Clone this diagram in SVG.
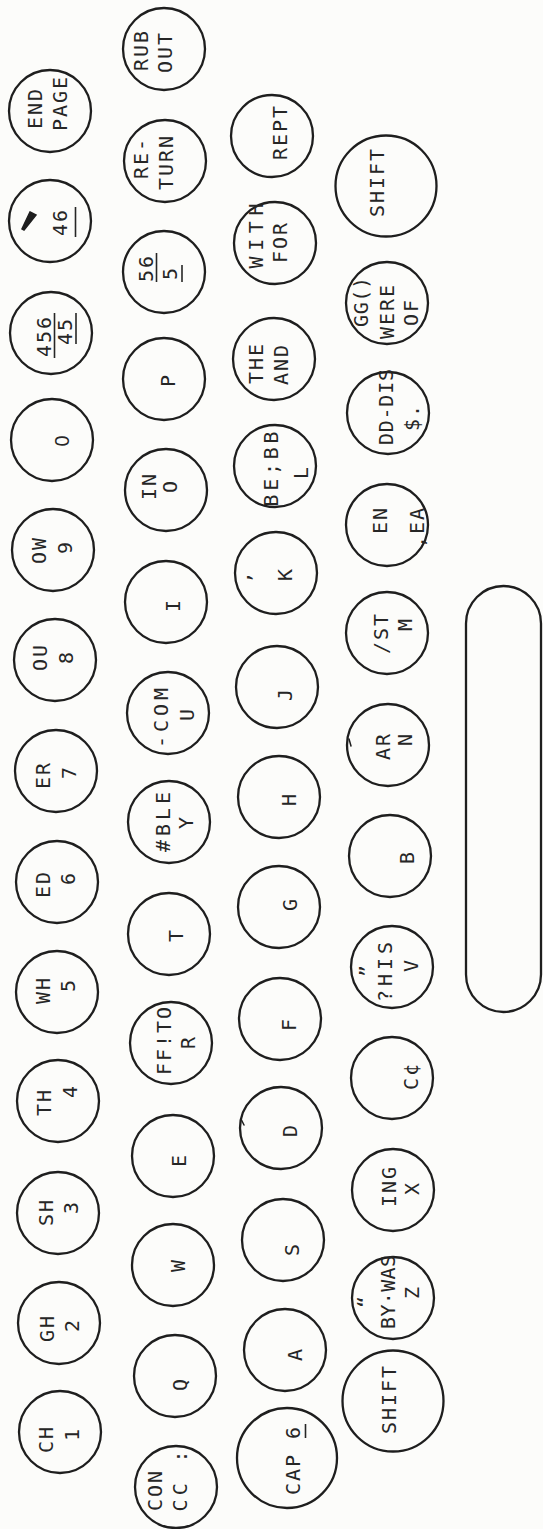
<svg xmlns="http://www.w3.org/2000/svg" width="543" height="1529" viewBox="0 0 543 1529">
<style>
.k{fill:none;stroke:#1e1e1e;stroke-width:2.3}
.t{font-family:"DejaVu Sans Mono","Liberation Mono",monospace;font-size:20px;fill:#262626;text-anchor:middle;letter-spacing:2px}
.z{font-family:"Liberation Sans","DejaVu Sans",sans-serif;letter-spacing:0}
.f{letter-spacing:0}
.u{stroke:#262626;stroke-width:1.6;fill:none}
.m{fill:#1e1e1e;stroke:#1e1e1e;stroke-width:1.5;stroke-linecap:round}
</style>
<rect width="543" height="1529" fill="#fcfcfa"/>

<!-- Row 1 (number row) -->
<g id="key-ch-1"><circle class="k" cx="60" cy="1432" r="41"/><text class="t" transform="translate(53.3 1439) rotate(-90)">CH</text><text class="t" transform="translate(79.3 1434) rotate(-90)">1</text></g>
<g id="key-gh-2"><circle class="k" cx="59" cy="1323" r="41"/><text class="t" transform="translate(54.3 1328) rotate(-90)">GH</text><text class="t" transform="translate(79.3 1325) rotate(-90)">2</text></g>
<g id="key-sh-3"><circle class="k" cx="58" cy="1213" r="41"/><text class="t" transform="translate(53.3 1212) rotate(-90)">SH</text><text class="t" transform="translate(78.3 1207) rotate(-90)">3</text></g>
<g id="key-th-4"><circle class="k" cx="58" cy="1101" r="41"/><text class="t" transform="translate(51.3 1102) rotate(-90)">TH</text><text class="t" transform="translate(77.3 1091) rotate(-90)">4</text></g>
<g id="key-wh-5"><circle class="k" cx="57" cy="992" r="41"/><text class="t" transform="translate(50.3 990) rotate(-90)">WH</text><text class="t" transform="translate(75.3 985) rotate(-90)">5</text></g>
<g id="key-ed-6"><circle class="k" cx="57" cy="882" r="41"/><text class="t" transform="translate(50.3 884) rotate(-90)">ED</text><text class="t" transform="translate(75.3 878) rotate(-90)">6</text></g>
<g id="key-er-7"><circle class="k" cx="56" cy="771" r="41"/><text class="t" transform="translate(50.3 775) rotate(-90)">ER</text><text class="t" transform="translate(76.3 772) rotate(-90)">7</text></g>
<g id="key-ou-8"><circle class="k" cx="55" cy="660" r="41"/><text class="t" transform="translate(47.3 657) rotate(-90)">OU</text><text class="t" transform="translate(73.3 657) rotate(-90)">8</text></g>
<g id="key-ow-9"><circle class="k" cx="53" cy="550" r="41"/><text class="t" transform="translate(46.3 550) rotate(-90)">OW</text><text class="t" transform="translate(72.3 547) rotate(-90)">9</text></g>
<g id="key-0"><circle class="k" cx="52" cy="440" r="41"/><text class="t z" transform="translate(69.3 441) rotate(-90)">0</text></g>
<g id="key-456-45"><circle class="k" cx="51" cy="333" r="41"/><text class="t" transform="translate(51.3 336) rotate(-90)">456</text><line class="u" x1="54.5" y1="313" x2="54.5" y2="358"/><text class="t" transform="translate(72.3 331) rotate(-90)">45</text><line class="u" x1="76" y1="313" x2="76" y2="344"/></g>
<g id="key-46"><circle class="k" cx="50" cy="221" r="41"/><path class="m" d="M30 212 L36 215 L24 230 L22 229 Z"/><text class="t" transform="translate(67.3 222) rotate(-90)">46</text><line class="u" x1="75.5" y1="207" x2="75.5" y2="237"/></g>
<g id="key-end-page"><circle class="k" cx="50" cy="111" r="41"/><text class="t" transform="translate(42.3 108) rotate(-90)">END</text><text class="t" transform="translate(67.3 103) rotate(-90)">PAGE</text></g>

<!-- Row 2 -->
<g id="key-rub-out"><circle class="k" cx="164" cy="49" r="41"/><text class="t" transform="translate(148.3 50) rotate(-90)">RUB</text><text class="t" transform="translate(172.3 52) rotate(-90)">OUT</text></g>
<g id="key-return"><circle class="k" cx="165" cy="161" r="41"/><text class="t" transform="translate(148.3 158) rotate(-90)">RE-</text><text class="t" transform="translate(173.3 162) rotate(-90)">TURN</text></g>
<g id="key-56-5"><circle class="k" cx="164" cy="272" r="41"/><text class="t" transform="translate(153.3 268) rotate(-90)">56</text><line class="u" x1="156.5" y1="253" x2="156.5" y2="282"/><text class="t" transform="translate(177.3 273) rotate(-90)">5</text><line class="u" x1="182" y1="265" x2="182" y2="282"/></g>
<g id="key-p"><circle class="k" cx="164" cy="379" r="41"/><text class="t" transform="translate(175.3 380) rotate(-90)">P</text></g>
<g id="key-in-o"><circle class="k" cx="166" cy="490" r="41"/><text class="t" transform="translate(156.3 486) rotate(-90)">IN</text><text class="t" transform="translate(177.3 486) rotate(-90)">O</text></g>
<g id="key-i"><circle class="k" cx="166" cy="602" r="41"/><text class="t" transform="translate(180.3 605) rotate(-90)">I</text></g>
<g id="key-com-u"><circle class="k" cx="168" cy="713" r="41"/><text class="t f" textLength="60" lengthAdjust="spacing" transform="translate(168.3 718) rotate(-90)">-COM</text><text class="t" transform="translate(194.3 714) rotate(-90)">U</text></g>
<g id="key-ble-y"><circle class="k" cx="169" cy="822" r="41"/><text class="t f" textLength="60" lengthAdjust="spacing" transform="translate(170.3 822) rotate(-90)">#BLE</text><text class="t" transform="translate(193.3 822) rotate(-90)">Y</text></g>
<g id="key-t"><circle class="k" cx="169" cy="934" r="41"/><text class="t" transform="translate(183.3 935) rotate(-90)">T</text></g>
<g id="key-ffto-r"><circle class="k" cx="171" cy="1043" r="41"/><text class="t" transform="translate(171.3 1040) rotate(-90)">FF!TO</text><text class="t" transform="translate(195.3 1042) rotate(-90)">R</text></g>
<g id="key-e"><circle class="k" cx="173" cy="1156" r="41"/><text class="t" transform="translate(186.3 1160) rotate(-90)">E</text></g>
<g id="key-w"><circle class="k" cx="173" cy="1265" r="41"/><text class="t" transform="translate(185.3 1265) rotate(-90)">W</text></g>
<g id="key-q"><circle class="k" cx="175" cy="1376" r="41"/><text class="t" transform="translate(187.3 1384) rotate(-90)">Q</text></g>
<g id="key-con-cc"><circle class="k" cx="176" cy="1487" r="41"/><text class="t" transform="translate(162.3 1490) rotate(-90)">CON</text><text class="t f" textLength="61" lengthAdjust="spacing" transform="translate(187.3 1481) rotate(-90)">CC :</text></g>

<!-- Row 3 -->
<g id="key-rept"><circle class="k" cx="272" cy="136" r="41"/><text class="t" transform="translate(287.3 132) rotate(-90)">REPT</text></g>
<g id="key-with-for"><circle class="k" cx="275" cy="243" r="41"/><text class="t f" textLength="65" lengthAdjust="spacing" transform="translate(263.3 236) rotate(-90)">WITH</text><text class="t" transform="translate(287.3 242) rotate(-90)">FOR</text></g>
<g id="key-the-and"><circle class="k" cx="274" cy="359" r="41"/><text class="t" transform="translate(263.3 363) rotate(-90)">THE</text><text class="t" transform="translate(288.3 364) rotate(-90)">AND</text></g>
<g id="key-bebb-l"><circle class="k" cx="275" cy="466" r="41"/><text class="t f" textLength="75" lengthAdjust="spacing" transform="translate(278.3 469) rotate(-90)">BE;BB</text><text class="t" transform="translate(308.3 472) rotate(-90)">L</text></g>
<g id="key-k"><circle class="k" cx="276" cy="573" r="41"/><text class="t" transform="translate(262 577) rotate(-90)">’</text><text class="t" transform="translate(292.3 574) rotate(-90)">K</text></g>
<g id="key-j"><circle class="k" cx="277" cy="687" r="41"/><text class="t" transform="translate(292.3 694) rotate(-90)">J</text></g>
<g id="key-h"><circle class="k" cx="279" cy="797" r="41"/><text class="t" transform="translate(296.3 799) rotate(-90)">H</text></g>
<g id="key-g"><circle class="k" cx="279" cy="907" r="41"/><text class="t" transform="translate(297.3 904) rotate(-90)">G</text></g>
<g id="key-f"><circle class="k" cx="280" cy="1019" r="41"/><text class="t" transform="translate(296.3 1024) rotate(-90)">F</text></g>
<g id="key-d"><circle class="k" cx="281" cy="1128" r="41"/><text class="t" transform="translate(297.3 1130) rotate(-90)">D</text></g>
<g id="key-s"><circle class="k" cx="283" cy="1240" r="41"/><text class="t" transform="translate(299.3 1249) rotate(-90)">S</text></g>
<g id="key-a"><circle class="k" cx="285" cy="1350" r="41"/><text class="t" transform="translate(302.3 1354) rotate(-90)">A</text></g>
<g id="key-cap-6"><circle class="k" cx="287" cy="1458" r="50"/><text class="t" transform="translate(300.3 1460) rotate(-90)">CAP 6</text><line class="u" x1="305.5" y1="1424" x2="305.5" y2="1438"/></g>

<!-- Row 4 -->
<g id="key-shift-right"><circle class="k" cx="386" cy="186" r="50.5"/><text class="t" transform="translate(384.3 182) rotate(-90)">SHIFT</text></g>
<g id="key-gg-were-of"><circle class="k" cx="387" cy="303" r="41"/><text class="t f" textLength="50" lengthAdjust="spacing" transform="translate(368.3 302) rotate(-90)">GG()</text><text class="t" transform="translate(394.3 311) rotate(-90)">WERE</text><text class="t" transform="translate(418.3 312) rotate(-90)">OF</text></g>
<g id="key-dddis"><circle class="k" cx="388" cy="413" r="41"/><text class="t f" textLength="76" lengthAdjust="spacing" transform="translate(393.3 407) rotate(-90)">DD-DIS</text><text class="t" transform="translate(419.3 417) rotate(-90)">$.</text></g>
<g id="key-en-ea"><circle class="k" cx="387" cy="525" r="41"/><text class="t" transform="translate(387.3 520) rotate(-90)">EN</text><text class="t" transform="translate(424.3 527) rotate(-90)">,EA</text></g>
<g id="key-st-m"><circle class="k" cx="387" cy="633" r="41"/><text class="t" transform="translate(388.3 633) rotate(-90)">/ST</text><text class="t" transform="translate(412.3 624) rotate(-90)">M</text></g>
<g id="key-ar-n"><circle class="k" cx="388" cy="745" r="41"/><text class="t" transform="translate(390.3 746) rotate(-90)">AR</text><text class="t" transform="translate(412.3 739) rotate(-90)">N</text></g>
<g id="key-b"><circle class="k" cx="390" cy="856" r="41"/><text class="t" transform="translate(414.3 857) rotate(-90)">B</text></g>
<g id="key-his-v"><circle class="k" cx="392" cy="967" r="41"/><text class="t" transform="translate(374 970) rotate(-90)">”</text><text class="t f" textLength="60" lengthAdjust="spacing" transform="translate(392.3 972) rotate(-90)">?HIS</text><text class="t" transform="translate(418.3 965) rotate(-90)">V</text></g>
<g id="key-c"><circle class="k" cx="392" cy="1078" r="41"/><text class="t" transform="translate(418.3 1076) rotate(-90)">C¢</text></g>
<g id="key-ing-x"><circle class="k" cx="393" cy="1190" r="41"/><text class="t" transform="translate(396.3 1186) rotate(-90)">ING</text><text class="t" transform="translate(419.3 1188) rotate(-90)">X</text></g>
<g id="key-bywas-z"><circle class="k" cx="393" cy="1298" r="41"/><text class="t" transform="translate(372 1301) rotate(-90)">“</text><text class="t f" textLength="74" lengthAdjust="spacing" transform="translate(395.3 1292) rotate(-90)">BY·WAS</text><text class="t" transform="translate(419.3 1292) rotate(-90)">Z</text></g>
<g id="key-shift-left"><circle class="k" cx="393" cy="1401" r="50.5"/><text class="t" transform="translate(396.3 1399) rotate(-90)">SHIFT</text></g>

<!-- Space bar -->
<g id="key-space"><rect class="k" x="466" y="586" width="75" height="426" rx="37.5"/></g>

<!-- small stray marks -->
<g id="marks"><line class="m" x1="241" y1="1119" x2="244" y2="1125"/><line class="m" x1="349" y1="739" x2="351" y2="746"/></g>
<g id="connectors"/>
</svg>
